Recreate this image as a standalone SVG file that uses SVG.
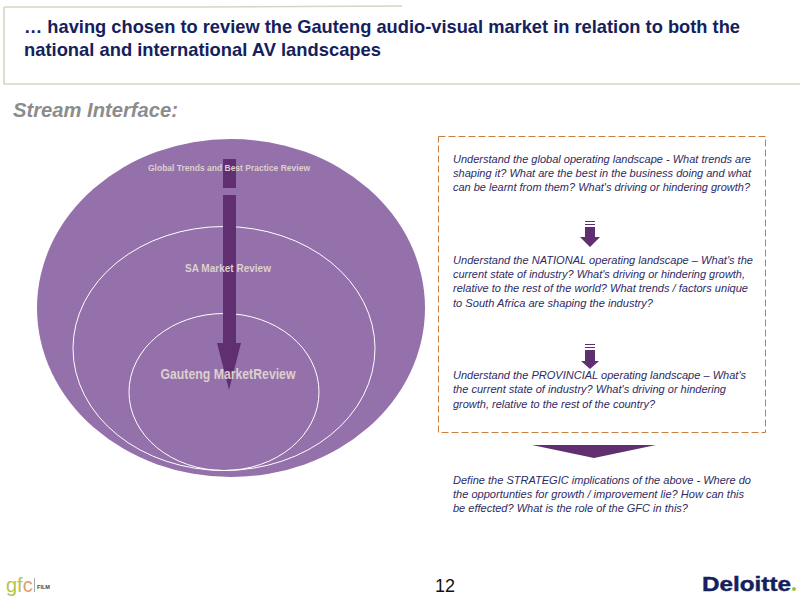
<svg xmlns="http://www.w3.org/2000/svg" width="800" height="600" viewBox="0 0 800 600">
<style>
.sans{font-family:"Liberation Sans",Arial,sans-serif}
.title{font-size:19px;font-weight:bold;fill:#14215c}
.body{font-size:11.6px;font-style:italic;fill:#2e2a63}
.lbl{fill:#ddd0cd;text-anchor:middle;font-weight:bold}
.ring{fill:none;stroke:#fff;stroke-width:1}
.arrow{fill:#5f2f6f}
</style>
<rect width="800" height="600" fill="#fff"/>
<g id="header">
<path d="M4 7H200L402 6M4 7V84H800" fill="none" stroke="#d9d4c2" stroke-width="1.6"/>
<text class="sans title" x="24" y="33" textLength="716" lengthAdjust="spacingAndGlyphs">… having chosen to review the Gauteng audio-visual market in relation to both the</text>
<text class="sans title" x="24" y="56" textLength="357" lengthAdjust="spacingAndGlyphs">national and international AV landscapes</text>
<text class="sans" x="13" y="117" font-size="20" font-weight="bold" font-style="italic" fill="#8c8c8c" textLength="165" lengthAdjust="spacingAndGlyphs">Stream Interface:</text>
</g>
<g id="outer-ellipse"><ellipse cx="231" cy="308" rx="194" ry="169" fill="#9571ab"/></g>
<g id="middle-ellipse"><ellipse class="ring" cx="224" cy="348.500" rx="151" ry="122"/></g>
<g id="inner-ellipse"><ellipse class="ring" cx="224" cy="392" rx="95" ry="78.500"/></g>
<g id="connectors">
<path class="arrow" d="M223 159H236V188H223ZM223 195H236V343H241L229 390L217 343H223Z"/>
<path class="arrow" d="M585 221H595V222H585ZM585 224H595V225H585ZM585 227H595V237H600L590 247L580 237H585Z"/>
<path class="arrow" d="M585 344H595V345H585ZM585 347H595V348H585ZM585 350H595V361H599L590 369L581 361H585Z"/>
<path class="arrow" d="M532 445H656L594 458Z"/>
</g>
<g id="outer-label"><text class="sans lbl" x="229" y="171" font-size="9.500" textLength="162" lengthAdjust="spacingAndGlyphs">Global Trends and Best Practice Review</text></g>
<g id="middle-label"><text class="sans lbl" x="228" y="272" font-size="11" textLength="86" lengthAdjust="spacingAndGlyphs">SA Market Review</text></g>
<g id="inner-label"><text class="sans lbl" x="228" y="379" font-size="14" textLength="135" lengthAdjust="spacingAndGlyphs">Gauteng MarketReview</text></g>
<g id="info-box">
<rect x="438.500" y="136.500" width="327" height="296" fill="none" stroke="#c9803f" stroke-dasharray="7 3"/>
<g class="sans body">
<text x="453" y="163" textLength="298" lengthAdjust="spacingAndGlyphs">Understand the global operating landscape - What trends are</text>
<text x="453" y="177" textLength="298" lengthAdjust="spacingAndGlyphs">shaping it? What are the best in the business doing and what</text>
<text x="453" y="191" textLength="297" lengthAdjust="spacingAndGlyphs">can be learnt from them? What's driving or hindering growth?</text>
<text x="453" y="264" textLength="300" lengthAdjust="spacingAndGlyphs">Understand the NATIONAL operating landscape – What's the</text>
<text x="453" y="278" textLength="292" lengthAdjust="spacingAndGlyphs">current state of industry? What's driving or hindering growth,</text>
<text x="453" y="292" textLength="295" lengthAdjust="spacingAndGlyphs">relative to the rest of the world? What trends / factors unique</text>
<text x="453" y="307" textLength="200" lengthAdjust="spacingAndGlyphs">to South Africa are shaping the industry?</text>
<text x="453" y="379" textLength="293" lengthAdjust="spacingAndGlyphs">Understand the PROVINCIAL operating landscape – What's</text>
<text x="453" y="393" textLength="273" lengthAdjust="spacingAndGlyphs">the current state of industry? What's driving or hindering</text>
<text x="453" y="408" textLength="202" lengthAdjust="spacingAndGlyphs">growth, relative to the rest of the country?</text>
</g>
</g>
<g id="strategic-text" class="sans body">
<text x="453" y="484" textLength="298" lengthAdjust="spacingAndGlyphs">Define the STRATEGIC implications of the above - Where do</text>
<text x="453" y="498" textLength="291" lengthAdjust="spacingAndGlyphs">the opportunties for growth / improvement lie? How can this</text>
<text x="453" y="512" textLength="235" lengthAdjust="spacingAndGlyphs">be effected? What is the role of the GFC in this?</text>
</g>
<g id="footer">
<text class="sans" x="445" y="592" font-size="18" fill="#111" text-anchor="middle">12</text>
<text class="sans" x="6" y="592" font-size="20" fill="#b5c44a">gf<tspan fill="#e0a070">c</tspan></text>
<path d="M34.500 578V592" stroke="#aaa" fill="none"/>
<text class="sans" x="37" y="589" font-size="6" font-weight="bold" fill="#444" textLength="13" lengthAdjust="spacingAndGlyphs">FILM</text>
<text class="sans" x="702" y="591" font-size="20" font-weight="bold" fill="#14215c" stroke="#14215c" stroke-width="0.4" textLength="89" lengthAdjust="spacingAndGlyphs">Deloitte</text>
<circle cx="794" cy="589" r="2" fill="#a8c030"/>
</g>
</svg>
